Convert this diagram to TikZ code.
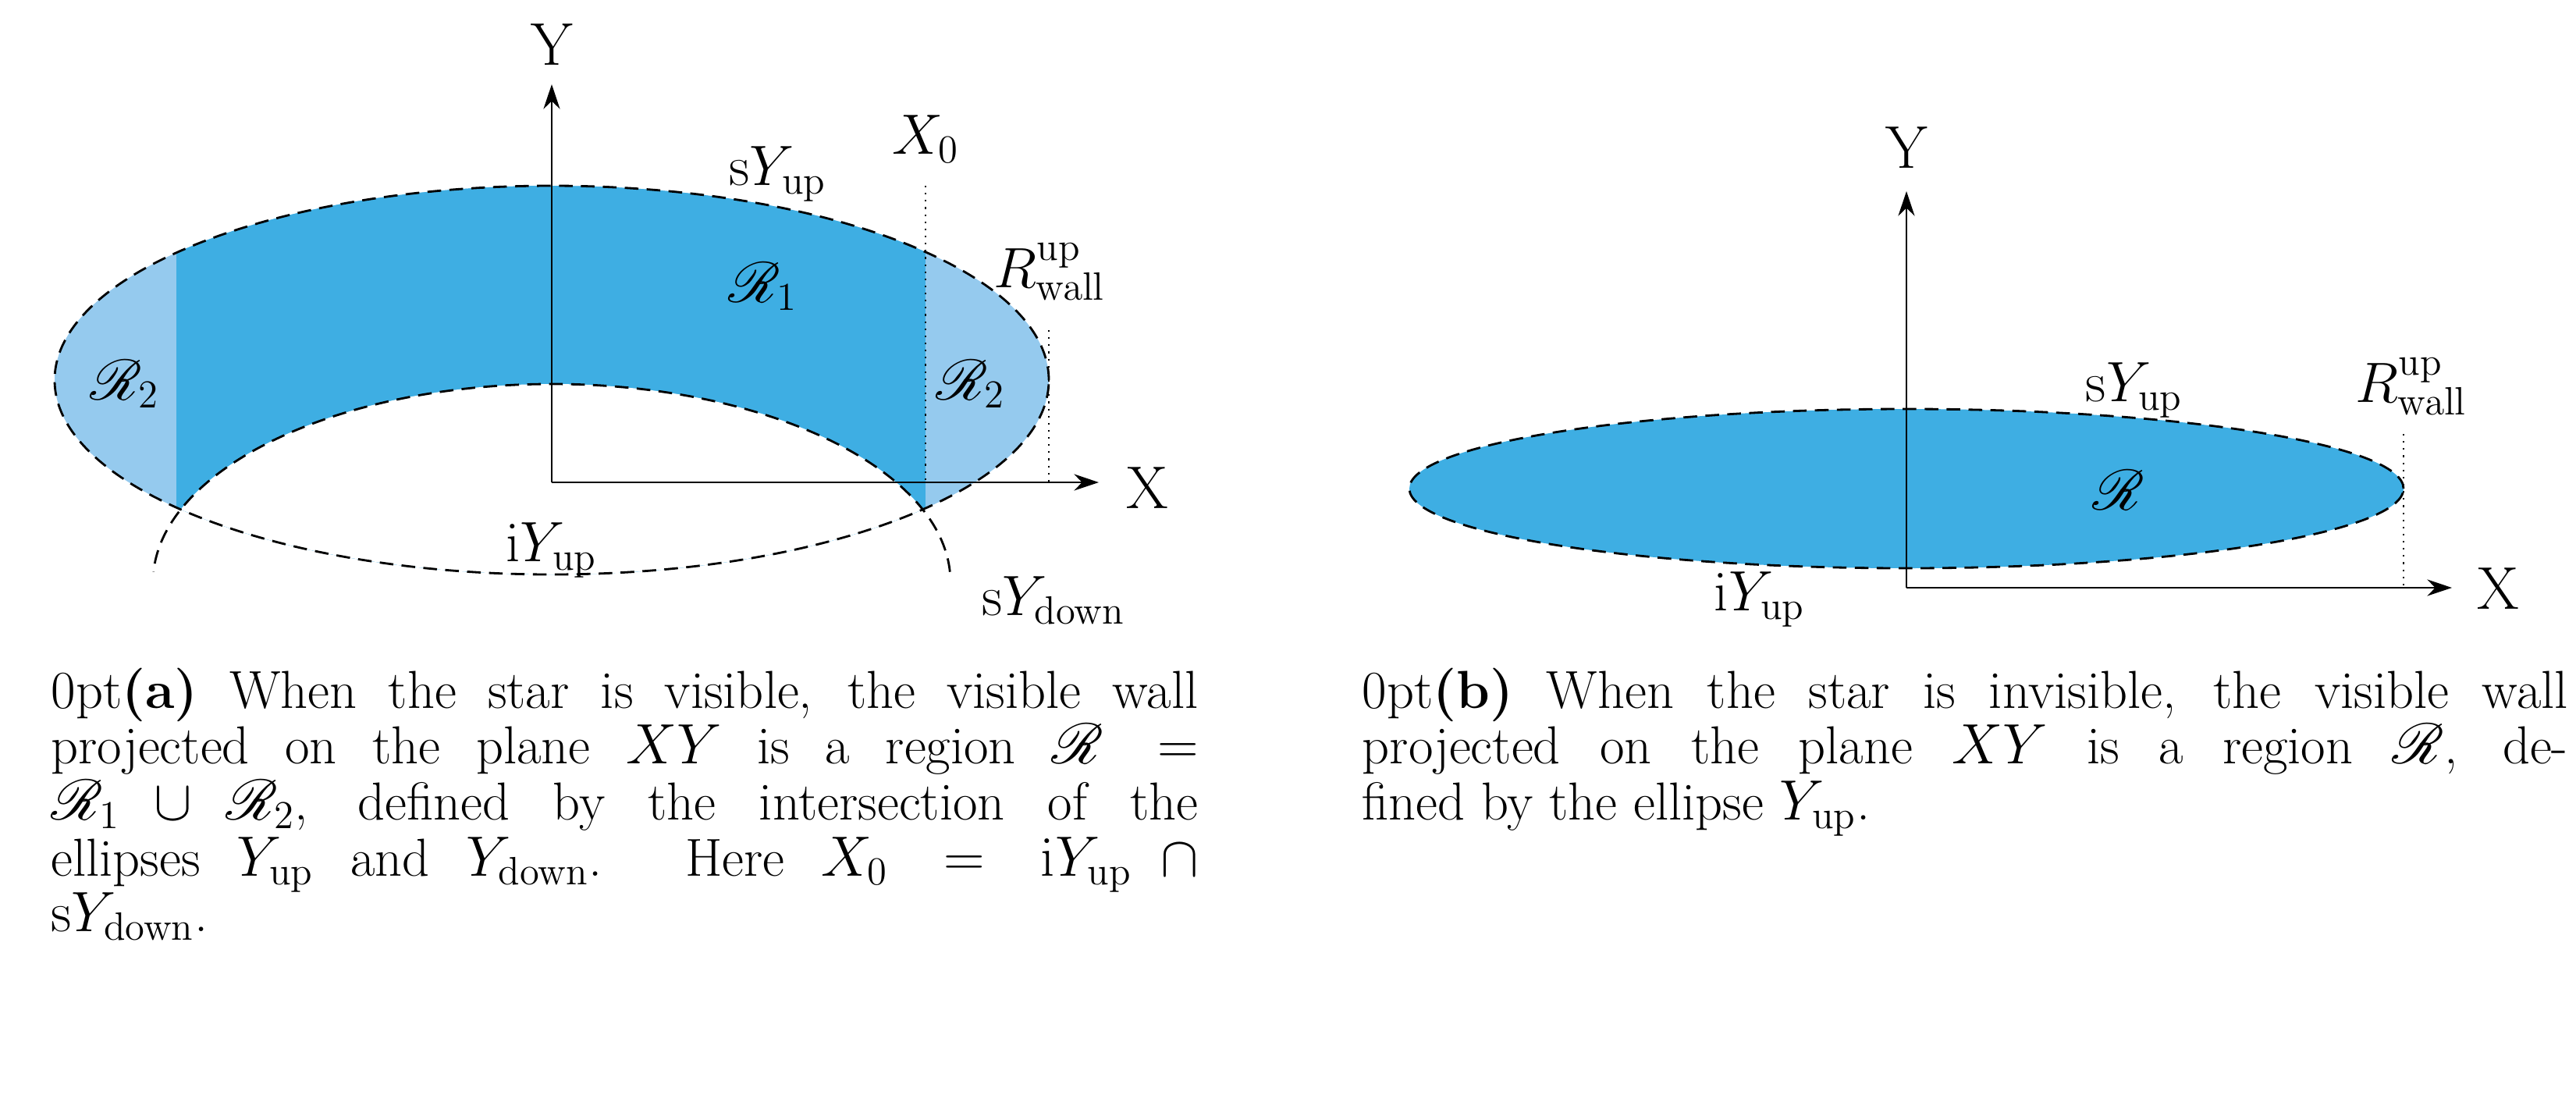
\documentclass[tikz,border=0pt]{standalone}
\usepackage{mathrsfs}
\usetikzlibrary{arrows.meta}
\definecolor{dblue}{HTML}{3EAEE3}
\definecolor{lblue}{HTML}{95CAEE}
\begin{document}
\begin{tikzpicture}[
  lab/.style={font=\fontsize{22}{26}\selectfont, inner sep=0pt},
  axis/.style={line width=0.8pt,-{Stealth[length=9pt,width=6pt]}},
  mydash/.style={line width=0.8pt,dash pattern=on 5pt off 3pt},
  mydot/.style={line width=0.6pt,dash pattern=on 0.6pt off 2pt},
  mycap/.style={font=\fontsize{19.5}{20.4}\selectfont\hyphenpenalty=10000, inner sep=0pt, anchor=north west, align=justify}]
\useasboundingbox (0,0) rectangle (33.01,-14.25);
% ---------- left diagram ----------
\begin{scope}
  \clip (7.07,-4.87) ellipse [x radius=6.37, y radius=2.49];
  \fill[lblue] (0,-1) rectangle (14,-9);
  \fill[dblue] (2.26,-1) rectangle (11.86,-9);
  \fill[white] (7.07,-7.46) ellipse [x radius=5.11, y radius=2.54];
\end{scope}
\draw[mydash] (7.07,-4.87) ellipse [x radius=6.37, y radius=2.49];
\draw[mydash] ([shift={(3:5.11 and 2.54)}]7.07,-7.46) arc[start angle=3,end angle=177,x radius=5.11,y radius=2.54];
\coordinate (O1) at (7.07,-6.18);
\coordinate (Ytop1) at (7.07,-1.08);
\coordinate (Xend1) at (14.08,-6.18);
\draw[axis] (O1) -- (Ytop1);
\draw[axis] (O1) -- (Xend1);
\coordinate (X0a) at (11.86,-2.38); \coordinate (X0b) at (11.86,-6.18);
\draw[mydot] (X0a) -- (X0b);
\coordinate (Rwa) at (13.44,-4.23); \coordinate (Rwb) at (13.44,-6.18);
\draw[mydot] (Rwa) -- (Rwb);
\node[lab] (Y1) at (7.07,-0.57) {Y};
\node[lab] (X1) at (14.70,-6.25) {X};
\node[lab] (X0) at (11.86,-1.78) {$X_0$};
\node[lab] (sYup1) at (9.97,-2.23) {$\mathrm{s}Y_{\mathrm{up}}$};
\node[lab] (Rw1) at (13.45,-3.48) {$R^{\mathrm{up}}_{\mathrm{wall}}$};
\node[lab] (R1) at (9.78,-3.67) {$\mathscr{R}_1$};
\node[lab] (R2a) at (1.60,-4.92) {$\mathscr{R}_2$};
\node[lab] (R2b) at (12.44,-4.92) {$\mathscr{R}_2$};
\node[lab] (iYup1) at (7.07,-7.05) {$\mathrm{i}Y_{\mathrm{up}}$};
\node[lab] (sYd) at (13.50,-7.69) {$\mathrm{s}Y_{\mathrm{down}}$};
% ---------- right diagram ----------
\fill[dblue] (24.43,-6.26) ellipse [x radius=6.37, y radius=1.02];
\draw[mydash] (24.43,-6.26) ellipse [x radius=6.37, y radius=1.02];
\coordinate (O2) at (24.43,-7.53);
\coordinate (Ytop2) at (24.43,-2.45);
\coordinate (Xend2) at (31.42,-7.53);
\draw[axis] (O2) -- (Ytop2);
\draw[axis] (O2) -- (Xend2);
\coordinate (Rwc) at (30.80,-5.56); \coordinate (Rwd) at (30.80,-7.53);
\draw[mydot] (Rwc) -- (Rwd);
\node[lab] (Y2) at (24.43,-1.89) {Y};
\node[lab] (X2) at (32.01,-7.54) {X};
\node[lab] (sYup2) at (27.35,-5.00) {$\mathrm{s}Y_{\mathrm{up}}$};
\node[lab] (Rw2) at (30.90,-4.95) {$R^{\mathrm{up}}_{\mathrm{wall}}$};
\node[lab] (R) at (27.15,-6.28) {$\mathscr{R}$};
\node[lab] (iYup2) at (22.55,-7.68) {$\mathrm{i}Y_{\mathrm{up}}$};
% ---------- captions ----------
\node[mycap, text width=14.70cm] (capa) at (0.65,-8.55) {\textbf{(a)} When the star is visible, the visible wall\linebreak projected on the plane $XY$ is a region $\mathscr{R}=\linebreak\mathscr{R}_1\cup\mathscr{R}_2$, defined by the intersection of the\linebreak ellipses $Y_{\mathrm{up}}$ and $Y_{\mathrm{down}}$. Here $X_0=\mathrm{i}Y_{\mathrm{up}}\cap\linebreak\mathrm{s}Y_{\mathrm{down}}$.};
\node[mycap, text width=15.45cm] (capb) at (17.45,-8.55) {\textbf{(b)} When the star is invisible, the visible wall\linebreak projected on the plane $XY$ is a region $\mathscr{R}$, de-\linebreak fined by the ellipse $Y_{\mathrm{up}}$.};
\end{tikzpicture}
\end{document}
